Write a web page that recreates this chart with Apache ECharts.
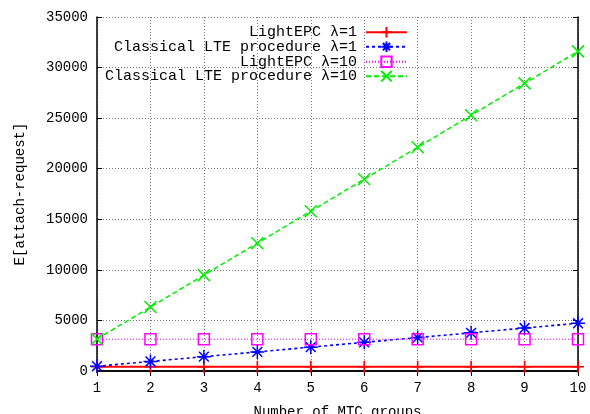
<!DOCTYPE html>
<html><head><meta charset="utf-8">
<script src="https://cdn.jsdelivr.net/npm/echarts@6/dist/echarts.min.js"></script>
<style>html,body{margin:0;padding:0;background:#fff;overflow:hidden}#c{width:590px;height:414px}</style>
</head><body><div id="c"></div>
<script>
const groups = [1,2,3,4,5,6,7,8,9,10];
const lightEPC1 = [420,420,420,420,420,420,420,420,420,420];
const classical1 = [472,944,1416,1888,2360,2832,3304,3776,4248,4720];
const lightEPC10 = [3140,3140,3140,3140,3140,3140,3140,3140,3140,3140];
const classical10 = [3160,6320,9480,12640,15800,18960,22120,25280,28440,31600];
const yTicks = [0,5000,10000,15000,20000,25000,30000,35000];
const names = ['LightEPC λ=1','Classical LTE procedure λ=1','LightEPC λ=10','Classical LTE procedure λ=10'];

const FONT = 'Liberation Mono';
const pair = arr => arr.map((v,i)=>[groups[i], v]);
const SYM_PLUS = 'path://M0,5L10,5M5,0L5,10';
const SYM_STAR = 'path://M0,5L10,5M5,0L5,10M1.5,1.5L8.5,8.5M8.5,1.5L1.5,8.5';
const SYM_SQ = 'path://M0,0L10,0L10,10L0,10Z';
const SYM_X = 'path://M0,0L10,10M10,0L0,10';

function mkSeries(name, arr, color, sym, size, lineType, lw, sw){
  return {
    name, type:'line', data: pair(arr), symbol: sym, symbolSize: size,
    showAllSymbol: true, silent: true, animation: false,
    lineStyle: {color, width: lw, type: lineType},
    itemStyle: {color: 'none', borderColor: color, borderWidth: sw},
    emphasis: {disabled: true}
  };
}
const series = [
  mkSeries(names[0], lightEPC1, '#ff0000', SYM_PLUS, 12, 'solid', 2, 1.6),
  mkSeries(names[1], classical1, '#0000ff', SYM_STAR, 14, [3,3], 1.6, 1.5),
  mkSeries(names[2], lightEPC10, '#ff00ff', SYM_SQ, 11, [1,2], 1, 1.5),
  mkSeries(names[3], classical10, '#00ee00', SYM_X, 12, [5,3], 1.5, 1.5),
];
const rowsY = [31.5, 46, 61, 75.5];
const legends = names.map((n,i)=>({
  data:[n], align:'right', orient:'vertical', right: 182, top: rowsY[i]-7,
  itemWidth: 41, itemHeight: 13, padding: 0, selectedMode: false,
  formatter: s => '{a|' + s + '}',
  textStyle: {fontFamily: FONT, fontSize: 15, color:'#000',
    rich:{a:{fontFamily: FONT, fontSize: 15, color:'#000', padding:[0,4,0,0]}}}
}));

const chart = echarts.init(document.getElementById('c'), null, {renderer:'canvas'});
const axisLine = {show:true, lineStyle:{color:'#000', width:1.5}};
const tick = {show:true, inside:true, length:5, lineStyle:{color:'#000', width:1}};
const split = {show:true, lineStyle:{color:'#777', width:1, type:[1,2]}};
chart.setOption({
  animation:false,
  backgroundColor:'#fff',
  grid:{left:97, right:12, top:17, bottom:43, containLabel:false, outerBoundsMode:'none'},
  legend: legends,
  xAxis:[
    {type:'value', min:1, max:10, interval:1, position:'bottom',
     axisLine, axisTick:tick, splitLine:split,
     axisLabel:{fontFamily:FONT, fontSize:14, color:'#000', margin:10},
     name:'Number of MTC groups', nameLocation:'middle', nameGap:34,
     nameTextStyle:{fontFamily:FONT, fontSize:14, color:'#000'}},
    {type:'value', min:1, max:10, interval:1, position:'top',
     axisLine, axisTick:tick, splitLine:{show:false}, axisLabel:{show:false}}
  ],
  yAxis:[
    {type:'value', min:yTicks[0], max:yTicks[yTicks.length-1], interval:5000, position:'left',
     axisLine, axisTick:tick, splitLine:split,
     axisLabel:{fontFamily:FONT, fontSize:14, color:'#000', margin:9, formatter: v => String(v)},
     name:'E[attach-request]', nameLocation:'middle', nameGap:70, nameRotate:90,
     nameTextStyle:{fontFamily:FONT, fontSize:14, color:'#000'}},
    {type:'value', min:yTicks[0], max:yTicks[yTicks.length-1], interval:5000, position:'right',
     axisLine, axisTick:tick, splitLine:{show:false}, axisLabel:{show:false}}
  ],
  series
});
</script></body></html>
